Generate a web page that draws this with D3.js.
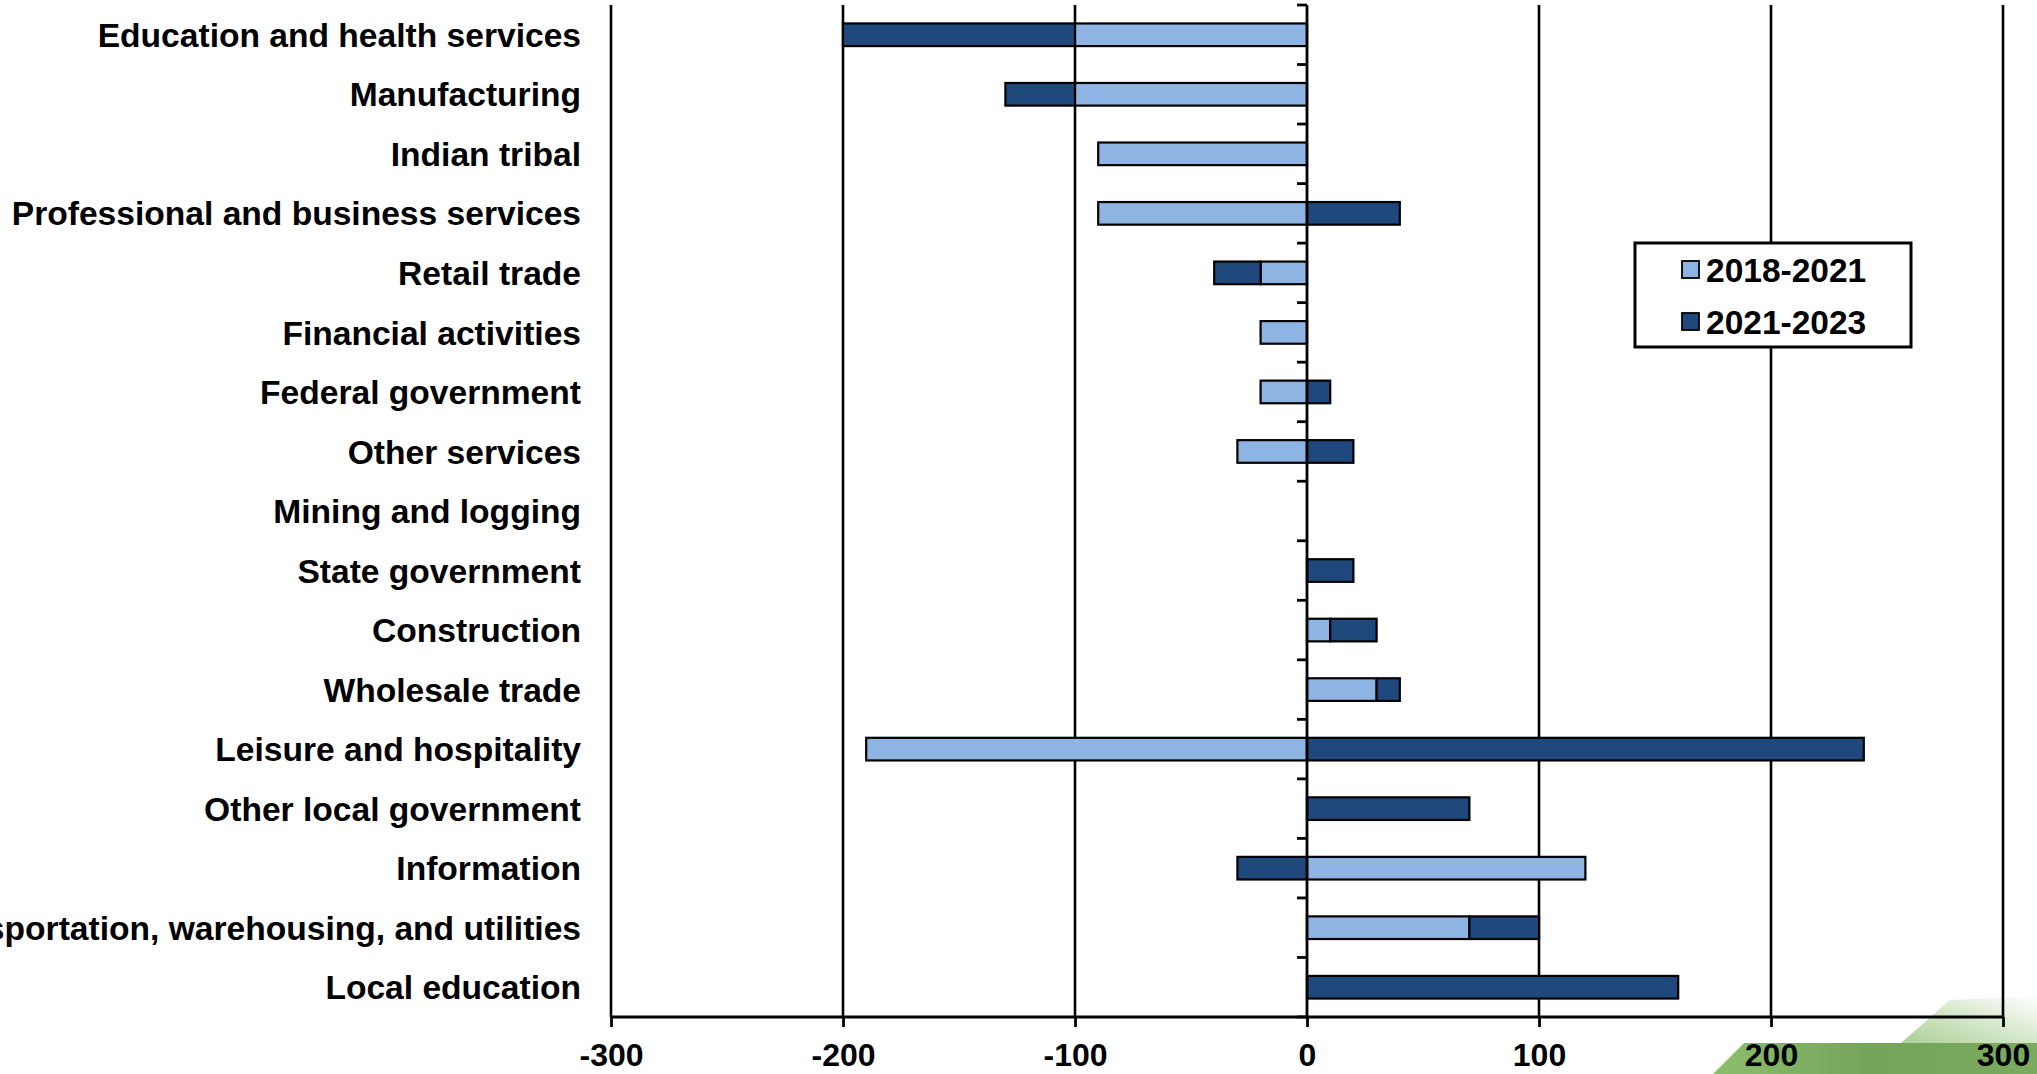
<!DOCTYPE html>
<html>
<head>
<meta charset="utf-8">
<script src="https://cdn.jsdelivr.net/npm/d3@7/dist/d3.min.js"></script>
<style>
  html, body { margin: 0; padding: 0; background: #ffffff; }
  svg { display: block; font-family: "Liberation Sans", Arial, sans-serif; }
</style>
</head>
<body>
<svg id="chart" width="2037" height="1074"></svg>
<script>
const categories = [
  "Education and health services",
  "Manufacturing",
  "Indian tribal",
  "Professional and business services",
  "Retail trade",
  "Financial activities",
  "Federal government",
  "Other services",
  "Mining and logging",
  "State government",
  "Construction",
  "Wholesale trade",
  "Leisure and hospitality",
  "Other local government",
  "Information",
  "Transportation, warehousing, and utilities",
  "Local education"
];
const seriesNames = ["2018-2021", "2021-2023"];
const values2018_2021 = [-100, -100, -90, -90, -20, -20, -20, -30, 0, 0, 10, 30, -190, 0, 120, 70, 0];
const values2021_2023 = [-100, -30, 0, 40, -20, 0, 10, 20, 0, 20, 20, 10, 240, 70, -30, 30, 160];
const xTicks = [-300, -200, -100, 0, 100, 200, 300];
const colors = ["#8EB4E3", "#1F497D"];

const W = 2037, H = 1074;
const margin = { top: 5, right: 34, bottom: 57, left: 611 };
const svg = d3.select("#chart");

// decorative green swoosh at bottom right (background logo fragment)
const defs = svg.append("defs");
const g1 = defs.append("linearGradient").attr("id", "gband").attr("x1", "0").attr("x2", "1").attr("y1", "0").attr("y2", "0");
g1.append("stop").attr("offset", "0").attr("stop-color", "#8cbf6c");
g1.append("stop").attr("offset", "0.5").attr("stop-color", "#74a35a");
g1.append("stop").attr("offset", "1").attr("stop-color", "#7aab60");
const g2 = defs.append("linearGradient").attr("id", "glight").attr("x1", "0").attr("x2", "1").attr("y1", "1").attr("y2", "0");
g2.append("stop").attr("offset", "0").attr("stop-color", "#a9cf94");
g2.append("stop").attr("offset", "0.6").attr("stop-color", "#dcecd3");
g2.append("stop").attr("offset", "1").attr("stop-color", "#ffffff");
svg.append("path").attr("d", "M1900,1044 L1950,1000 L2037,996 L2037,1044 Z").attr("fill", "url(#glight)");
svg.append("path").attr("d", "M1713,1074 L1744,1043 L2037,1043 L2037,1074 Z").attr("fill", "url(#gband)");

const x = d3.scaleLinear().domain([-300, 300]).range([margin.left, W - margin.right]);
const y = d3.scaleBand().domain(categories).range([margin.top, H - margin.bottom])
  .paddingInner(0.62).paddingOuter(0.31);

// vertical gridlines
svg.append("g").selectAll("line").data(xTicks.filter(d => d !== 0)).join("line")
  .attr("x1", d => x(d)).attr("x2", d => x(d))
  .attr("y1", margin.top).attr("y2", H - margin.bottom)
  .attr("stroke", "#000").attr("stroke-width", 2.6);

// stacked bars (diverging)
const rows = categories.map((c, i) => ({ cat: c, "2018-2021": values2018_2021[i], "2021-2023": values2021_2023[i] }));
const stacked = d3.stack().keys(seriesNames).offset(d3.stackOffsetDiverging)(rows);

svg.append("g").selectAll("g").data(stacked).join("g")
  .attr("fill", (d, i) => colors[i])
  .selectAll("rect").data(d => d.filter(p => p[1] - p[0] !== 0)).join("rect")
  .attr("x", d => x(Math.min(d[0], d[1])))
  .attr("width", d => Math.abs(x(d[1]) - x(d[0])))
  .attr("y", d => y(d.data.cat))
  .attr("height", y.bandwidth())
  .attr("stroke", "#000").attr("stroke-width", 2.2);

// zero (category) axis with ticks at band boundaries
const zeroAxis = svg.append("g");
zeroAxis.append("line")
  .attr("x1", x(0)).attr("x2", x(0))
  .attr("y1", margin.top).attr("y2", H - margin.bottom)
  .attr("stroke", "#000").attr("stroke-width", 2.8);
const boundaries = d3.range(categories.length + 1).map(i => margin.top + i * y.step());
zeroAxis.selectAll("line.t").data(boundaries).join("line").attr("class", "t")
  .attr("x1", x(0) - 10).attr("x2", x(0))
  .attr("y1", d => d).attr("y2", d => d)
  .attr("stroke", "#000").attr("stroke-width", 2.8);

// category labels
svg.append("g").selectAll("text").data(categories).join("text")
  .attr("x", margin.left - 30)
  .attr("y", d => y(d) + y.bandwidth() / 2)
  .attr("dy", "0.36em")
  .attr("text-anchor", "end")
  .attr("font-size", 33.6).attr("font-weight", "bold").attr("fill", "#000")
  .text(d => d);

// bottom value axis
const xAxis = svg.append("g").attr("transform", `translate(0,${H - margin.bottom})`)
  .call(d3.axisBottom(x).tickValues(xTicks).tickSize(10).tickPadding(16).tickFormat(d3.format("d")));
xAxis.select(".domain").attr("stroke", "#000").attr("stroke-width", 3)
  .attr("d", `M${x(-300)},0H${x(300)}`);
xAxis.selectAll(".tick line").attr("stroke", "#000").attr("stroke-width", 2.8);
xAxis.selectAll(".tick text").attr("font-size", 32).attr("font-weight", "bold").attr("fill", "#000")
  .attr("font-family", "\"Liberation Sans\", Arial, sans-serif")
  .text(d => d < 0 ? "-" + Math.abs(d) : d);

// legend
const legend = svg.append("g");
legend.append("rect").attr("x", 1635).attr("y", 243).attr("width", 276).attr("height", 104)
  .attr("fill", "#fff").attr("stroke", "#000").attr("stroke-width", 3);
const li = legend.selectAll("g.item").data(seriesNames).join("g").attr("class", "item")
  .attr("transform", (d, i) => `translate(1682,${261 + i * 52})`);
li.append("rect").attr("width", 17).attr("height", 17)
  .attr("fill", (d, i) => colors[i]).attr("stroke", "#000").attr("stroke-width", 1.8);
li.append("text").attr("x", 24).attr("y", 8.5).attr("dy", "0.36em")
  .attr("font-size", 33.5).attr("font-weight", "bold").attr("fill", "#000").text(d => d);
</script>
</body>
</html>
